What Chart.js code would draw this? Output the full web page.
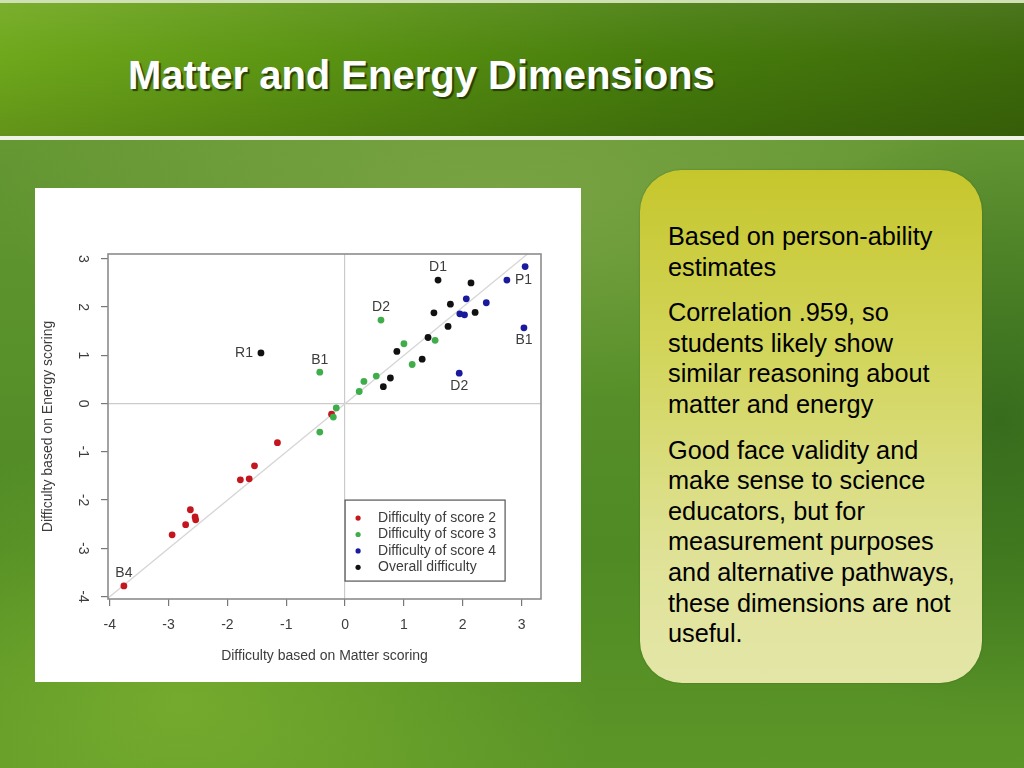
<!DOCTYPE html>
<html>
<head>
<meta charset="utf-8">
<script src="https://cdn.jsdelivr.net/npm/chart.js@4.4.1/dist/chart.umd.min.js"></script>
<style>
  html, body { margin: 0; padding: 0; }
  body {
    width: 1024px; height: 768px; position: relative; overflow: hidden;
    font-family: "Liberation Sans", Arial, sans-serif;
    background:
      radial-gradient(ellipse 420px 260px at 180px 700px, rgba(140,190,50,0.55), rgba(140,190,50,0) 100%),
      radial-gradient(ellipse 300px 300px at 1000px 420px, rgba(30,80,20,0.55), rgba(30,80,20,0) 100%),
      radial-gradient(ellipse 500px 200px at 500px 200px, rgba(150,180,90,0.45), rgba(150,180,90,0) 100%),
      linear-gradient(180deg, #6e9c3a 0px, #5b922c 300px, #4f8a24 550px, #5c9628 768px);
  }
  #header {
    position: absolute; left: 0; top: 0; width: 1024px; height: 136px;
    background:
      linear-gradient(180deg, rgba(255,255,255,0.08) 0%, rgba(0,0,0,0) 40%, rgba(0,0,0,0.12) 100%),
      linear-gradient(90deg, #6fa81c 0%, #5b9412 30%, #467c0c 65%, #3d6a0a 100%);
    border-top: 3px solid #cfe0b4;
    box-sizing: border-box;
  }
  #rule {
    position: absolute; left: 0; top: 136px; width: 1024px; height: 4px;
    background: #eef3e6;
  }
  #title {
    position: absolute; left: 128px; top: 55px;
    font-size: 40px; line-height: 40px; font-weight: bold; color: #ffffff;
    text-shadow: 2px 2px 1px rgba(30,50,10,0.85);
    white-space: nowrap;
  }
  #chartBox {
    position: absolute; left: 35px; top: 188px; width: 546px; height: 494px;
    background: #ffffff;
  }
  #panel {
    position: absolute; left: 640px; top: 170px; width: 342px; height: 513px;
    border-radius: 42px;
    background: linear-gradient(180deg, #c6c62c 0%, #d2d55a 35%, #dfe296 75%, #e4e6a8 100%);
    box-shadow: 0 0 2px rgba(40,60,10,0.4);
  }
  #panel .txt {
    position: absolute; left: 28px; top: 51px; width: 314px;
    font-size: 25.3px; line-height: 30.6px; color: #000;
  }
  #panel p { margin: 0 0 15px 0; white-space: nowrap; }
</style>
</head>
<body>
<div id="header"></div>
<div id="rule"></div>
<div id="title">Matter and Energy Dimensions</div>

<div id="chartBox"><canvas id="scatter" width="546" height="494"></canvas></div>

<div id="panel">
  <div class="txt">
    <p>Based on person-ability<br>estimates</p>
    <p>Correlation .959, so<br>students likely show<br>similar reasoning about<br>matter and energy</p>
    <p>Good face validity and<br>make sense to science<br>educators, but for<br>measurement purposes<br>and alternative pathways,<br>these dimensions are not<br>useful.</p>
  </div>
</div>

<script>
'use strict';

// difficulty estimates: x = matter scoring, y = energy scoring
const score2Points = [
  {x: -3.76, y: -3.78}, {x: -2.94, y: -2.72}, {x: -2.71, y: -2.51},
  {x: -2.63, y: -2.20}, {x: -2.55, y: -2.35}, {x: -2.54, y: -2.41},
  {x: -1.78, y: -1.58}, {x: -1.63, y: -1.56}, {x: -1.54, y: -1.29},
  {x: -1.15, y: -0.81}, {x: -0.23, y: -0.22}
];
const score3Points = [
  {x: -0.43, y: 0.65}, {x: -0.43, y: -0.59}, {x: -0.15, y: -0.09},
  {x: -0.20, y: -0.28}, {x: 0.24, y: 0.25}, {x: 0.32, y: 0.46},
  {x: 0.53, y: 0.57}, {x: 0.61, y: 1.73}, {x: 1.00, y: 1.24},
  {x: 1.14, y: 0.81}, {x: 1.53, y: 1.31}
];
const score4Points = [
  {x: 3.06, y: 2.84}, {x: 2.75, y: 2.56}, {x: 2.06, y: 2.17},
  {x: 2.40, y: 2.09}, {x: 1.95, y: 1.86}, {x: 2.03, y: 1.84},
  {x: 3.04, y: 1.57}, {x: 1.94, y: 0.63}
];
const overallPoints = [
  {x: -1.43, y: 1.05}, {x: 0.65, y: 0.35}, {x: 0.77, y: 0.53},
  {x: 0.88, y: 1.08}, {x: 1.31, y: 0.92}, {x: 1.41, y: 1.37},
  {x: 1.51, y: 1.88}, {x: 1.58, y: 2.56}, {x: 1.75, y: 1.60},
  {x: 1.79, y: 2.06}, {x: 2.14, y: 2.50}, {x: 2.21, y: 1.89}
];
const identityLine = [{x: -5, y: -5}, {x: 5, y: 5}];

const seriesNames = ['Difficulty of score 2', 'Difficulty of score 3', 'Difficulty of score 4', 'Overall difficulty'];
const seriesColors = ['#c4161f', '#3fae4a', '#1a1a9e', '#111111'];

const xTicks = [-4, -3, -2, -1, 0, 1, 2, 3];
const yTicks = [-4, -3, -2, -1, 0, 1, 2, 3];

// item labels: [name, x, y, where]
const itemLabels = [
  ['D1', 1.58, 2.56, 'above'],
  ['P1', 2.75, 2.56, 'right'],
  ['B1', 3.04, 1.57, 'below'],
  ['D2', 1.94, 0.63, 'below'],
  ['D2', 0.61, 1.73, 'above'],
  ['B1', -0.43, 0.65, 'above'],
  ['R1', -1.43, 1.05, 'left'],
  ['B4', -3.76, -3.78, 'above']
];

const textColor = '#3c3c3c';
const fontFamily = '"Liberation Sans", Arial, sans-serif';

const rBoxPlugin = {
  id: 'rBox',
  afterDatasetsDraw(chart) {
    const {ctx, chartArea, scales} = chart;
    ctx.save();
    ctx.strokeStyle = '#8c8c8c';
    ctx.lineWidth = 1.6;
    ctx.strokeRect(chartArea.left, chartArea.top, chartArea.right - chartArea.left, chartArea.bottom - chartArea.top);

    // labels next to points
    ctx.font = '14px ' + fontFamily;
    ctx.fillStyle = textColor;
    ctx.textBaseline = 'middle';
    for (const [name, vx, vy, where] of itemLabels) {
      const px = scales.x.getPixelForValue(vx);
      const py = scales.y.getPixelForValue(vy);
      if (where === 'above') { ctx.textAlign = 'center'; ctx.fillText(name, px, py - 12.5); }
      if (where === 'below') { ctx.textAlign = 'center'; ctx.fillText(name, px, py + 12.5); }
      if (where === 'left') { ctx.textAlign = 'right'; ctx.fillText(name, px - 8, py); }
      if (where === 'right') { ctx.textAlign = 'left'; ctx.fillText(name, px + 8, py); }
    }

    // legend, top-left corner at (0, -2) like R's legend(0, -2, ...)
    const lx = scales.x.getPixelForValue(0);
    const ly = scales.y.getPixelForValue(-2);
    const boxW = 160, boxH = 81;
    ctx.fillStyle = '#ffffff';
    ctx.fillRect(lx, ly, boxW, boxH);
    ctx.strokeStyle = '#555555';
    ctx.lineWidth = 1.2;
    ctx.strokeRect(lx, ly, boxW, boxH);
    ctx.textAlign = 'left';
    seriesNames.forEach((name, i) => {
      const rowY = ly + 18 + i * 16.4;
      ctx.fillStyle = seriesColors[i];
      ctx.beginPath();
      ctx.arc(lx + 13, rowY, 2.6, 0, Math.PI * 2);
      ctx.fill();
      ctx.fillStyle = textColor;
      ctx.fillText(name, lx + 33, rowY);
    });
    ctx.restore();
  }
};

function scatterSet(i, data, order) {
  return {
    label: seriesNames[i],
    data: data,
    backgroundColor: seriesColors[i],
    borderColor: seriesColors[i],
    pointRadius: 3.4,
    pointBorderWidth: 0,
    order: order
  };
}

const zeroOnlyGrid = {
  drawOnChartArea: true,
  drawTicks: true,
  tickLength: 7,
  tickColor: '#777777',
  lineWidth: 1.2,
  color: (c) => (c.tick && c.tick.value === 0 ? '#cbcbcb' : 'rgba(0,0,0,0)')
};

new Chart(document.getElementById('scatter'), {
  type: 'scatter',
  data: {
    datasets: [
      scatterSet(0, score2Points, 4),
      scatterSet(1, score3Points, 3),
      scatterSet(2, score4Points, 2),
      scatterSet(3, overallPoints, 1),
      {
        type: 'line',
        label: 'y = x',
        data: identityLine,
        borderColor: '#d6d6d6',
        borderWidth: 1.3,
        pointRadius: 0,
        fill: false,
        order: 10
      }
    ]
  },
  options: {
    responsive: false,
    animation: false,
    layout: { padding: { top: 66, right: 40, left: 0, bottom: 0 } },
    plugins: {
      legend: { display: false },
      tooltip: { enabled: false }
    },
    scales: {
      x: {
        type: 'linear',
        min: -4.03,
        max: 3.33,
        afterBuildTicks: (scale) => { scale.ticks = xTicks.map(v => ({value: v})); },
        afterFit: (scale) => { scale.height = 83; },
        border: { display: false },
        grid: zeroOnlyGrid,
        ticks: {
          autoSkip: false,
          maxRotation: 0,
          padding: 11,
          color: textColor,
          font: { family: fontFamily, size: 14 }
        },
        title: {
          display: true,
          text: 'Difficulty based on Matter scoring',
          color: textColor,
          font: { family: fontFamily, size: 14 },
          padding: { top: 0, bottom: 17 }
        }
      },
      y: {
        type: 'linear',
        min: -4.05,
        max: 3.1,
        afterBuildTicks: (scale) => { scale.ticks = yTicks.map(v => ({value: v})); },
        afterFit: (scale) => { scale.width = 73; },
        border: { display: false },
        grid: zeroOnlyGrid,
        ticks: {
          autoSkip: false,
          minRotation: -90,
          maxRotation: -90,
          crossAlign: 'center',
          padding: 12,
          color: textColor,
          font: { family: fontFamily, size: 14 }
        },
        title: {
          display: true,
          text: 'Difficulty based on Energy scoring',
          color: textColor,
          font: { family: fontFamily, size: 14 },
          padding: { top: 5, bottom: 0 }
        }
      }
    }
  },
  plugins: [rBoxPlugin]
});
</script>
</body>
</html>
